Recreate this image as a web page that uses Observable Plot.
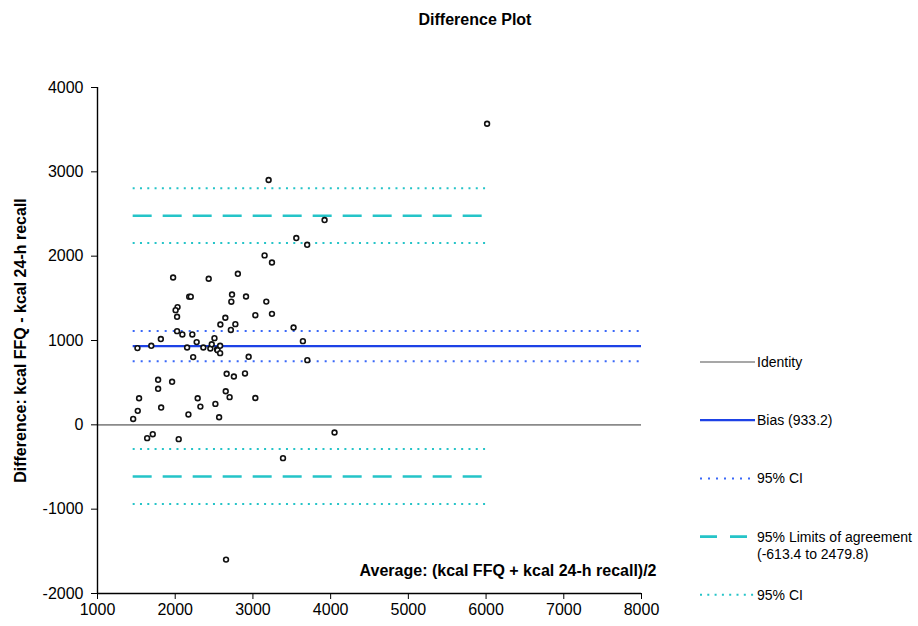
<!DOCTYPE html>
<html>
<head>
<meta charset="utf-8">
<script src="https://cdn.jsdelivr.net/npm/d3@7"></script>
<script src="https://cdn.jsdelivr.net/npm/@observablehq/plot@0.6"></script>
<style>
  body { margin: 0; background: white; }
  #wrap { width: 918px; height: 626px; position: relative; background: white; }
  #title { height: 30px; position: relative; }
  #title div { position: absolute; left: 0; width: 950px; top: 11px; text-align: center;
    font: bold 16px "Liberation Sans", Arial, sans-serif; line-height: 18px; color: #000; }
</style>
</head>
<body>
<div id="wrap">
  <div id="title"><div>Difference Plot</div></div>
  <div id="chart"></div>
</div>
<script>
// ---- data ----
const avgKcal = [
  1459, 1518, 1535, 1819, 2170, 2324, 2517, 2565, 2289,
  1639, 1711, 2045, 4050, 3387, 2654,
  1780, 1780, 1960, 2650, 2700, 3031, 2662, 2755, 2898,
  2231, 2945, 3700,
  1514, 1692, 1815, 2024, 2092, 2220, 2153, 2276, 2362, 2452,
  2470, 2505, 2538, 2545, 2578, 2578, 2581, 2645, 2716, 2774,
  2722, 2731, 2911, 3031, 3172, 3245, 3523, 3643,
  2030, 2005, 2024, 2180, 2200, 1973, 2431, 2806,
  3150, 3245, 3558, 3698, 3922, 3202, 6013
];
const diffKcal = [
  70, 166, 315, 205, 123, 216, 248, 90, 315,
  -158, -111, -170, -91, -395, -1598,
  534, 427, 510, 398, 328, 318, 605, 573, 609,
  803, 807, 767,
  910, 937, 1017, 1111, 1072, 1072, 917, 981, 917, 905,
  955, 1028, 895, 885, 937, 850, 1190, 1270, 1125, 1194,
  1460, 1545, 1522, 1300, 1461, 1316, 1154, 992,
  1396, 1360, 1281, 1520, 1520, 1747, 1732, 1791,
  2009, 1925, 2215, 2135, 2428, 2903, 3570
];
const biasValue = 933.2;
const biasCI = [755, 1112];
const loaValues = [-613.4, 2479.8];
const loaCI = [-938, -288, 2155, 2805];
const xDomain = [1000, 8000];
const yDomain = [-2000, 4000];
const xTicks = [1000, 2000, 3000, 4000, 5000, 6000, 7000, 8000];
const yTicks = [-2000, -1000, 0, 1000, 2000, 3000, 4000];
const yTitle = "Difference: kcal FFQ - kcal 24-h recall";
const xTitle = "Average: (kcal FFQ + kcal 24-h recall)/2";
const legendLabels = ["Identity", "Bias (933.2)", "95% CI", "95% Limits of agreement", "95% CI"];
const legendSubLabel = "(-613.4 to 2479.8)";

// ---- styles ----
const cGray = "#8a8a8a", cBlue = "#1d42e6", cBlueDot = "#3a68f8", cCyan = "#25c4c8";
const font = "'Liberation Sans', Arial, sans-serif";

const points = avgKcal.map((a, i) => ({avg: a, diff: diffKcal[i]}));
const xMin = d3.min(avgKcal), xMax = d3.max(avgKcal);

const svg = Plot.plot({
  width: 918,
  height: 596,
  marginLeft: 97,
  marginRight: 277,
  marginTop: 57,
  marginBottom: 33,
  style: {fontFamily: font, fontSize: "16px", color: "#000", background: "white", overflow: "visible"},
  x: {domain: xDomain, ticks: xTicks, tickFormat: d => String(d), tickSize: 6, tickPadding: 4, label: null},
  y: {domain: yDomain, ticks: yTicks, tickFormat: d => String(d), tickSize: 6, tickPadding: 8, label: null},
  marks: [
    // identity
    Plot.ruleY([0], {x1: xDomain[0], x2: xDomain[1], stroke: cGray, strokeWidth: 1.6}),
    // bias CI
    Plot.ruleY(biasCI, {x1: xMin, x2: xDomain[1], stroke: cBlueDot, strokeWidth: 2, strokeDasharray: "2,6"}),
    // bias
    Plot.ruleY([biasValue], {x1: xMin, x2: xDomain[1], stroke: cBlue, strokeWidth: 2.2}),
    // LoA CI
    Plot.ruleY(loaCI, {x1: xMin, x2: xMax, stroke: cCyan, strokeWidth: 2, strokeDasharray: "2,5.3"}),
    // LoA
    Plot.ruleY(loaValues, {x1: xMin, x2: xMax, stroke: cCyan, strokeWidth: 2.6, strokeDasharray: "19,11"}),
    // axis lines
    Plot.ruleX([xDomain[0]], {y1: yDomain[0], y2: yDomain[1], stroke: "#000", strokeWidth: 1.4}),
    Plot.ruleY([yDomain[0]], {x1: xDomain[0], x2: xDomain[1], stroke: "#000", strokeWidth: 1.4}),
    // points
    Plot.dot(points, {x: "avg", y: "diff", r: 2.4, stroke: "#111", fill: "white", strokeWidth: 1.6}),
    // axis titles
    Plot.text([yTitle], {text: d => d, frameAnchor: "left", dx: -77, rotate: -90, textAnchor: "middle",
      lineAnchor: "middle", fontWeight: "bold", fontSize: 16}),
    Plot.text([xTitle], {text: d => d, frameAnchor: "bottom-right", dx: 15, dy: -23, textAnchor: "end",
      lineAnchor: "middle", fontWeight: "bold", fontSize: 16})
  ]
});

// ---- legend on the right ----
const legendStyles = [
  {stroke: cGray, width: 1.6, dash: null},
  {stroke: cBlue, width: 2.2, dash: null},
  {stroke: cBlueDot, width: 2, dash: "2,6"},
  {stroke: cCyan, width: 2.6, dash: "17,13"},
  {stroke: cCyan, width: 2, dash: "2,5.3"}
];
const lg = d3.select(svg).append("g")
  .attr("font-family", font).attr("font-size", 14).attr("fill", "#000")
  .attr("text-anchor", "start");
const ly0 = 332, lstep = 58.2, lx0 = 700, lx1 = 755;
legendLabels.forEach((lab, i) => {
  const y = ly0 + i * lstep;
  const s = legendStyles[i];
  const ln = lg.append("line").attr("x1", lx0).attr("x2", i === 3 ? 748 : lx1)
    .attr("y1", y).attr("y2", y).attr("stroke", s.stroke).attr("stroke-width", s.width);
  if (s.dash) ln.attr("stroke-dasharray", s.dash);
  lg.append("text").attr("x", lx1 + 2).attr("y", y).attr("dy", "0.35em")
    .attr("text-anchor", "start").text(lab);
  if (i === 3) lg.append("text").attr("x", lx1 + 2).attr("y", y + 17).attr("dy", "0.35em")
    .attr("text-anchor", "start").text(legendSubLabel);
});

document.getElementById("chart").appendChild(svg);
</script>
</body>
</html>
